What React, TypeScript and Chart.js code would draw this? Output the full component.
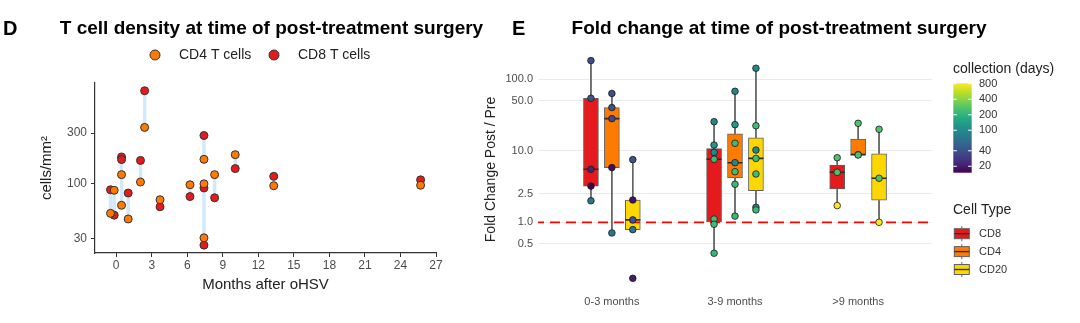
import React, { useEffect, useRef } from "react";
import { Chart, registerables } from "chart.js";

Chart.register(...registerables);
const FONT = "'Liberation Sans', Arial, Helvetica, sans-serif";
Chart.defaults.font.family = FONT;

// ---------------- Panel D : T cell density ----------------
const titleD = "T cell density at time of post-treatment surgery";
const monthsD = [-0.48, -0.17, 0.45, 0.45, 1.01, 2.05, 2.4, 3.7, 6.23, 7.41, 7.41, 7.41, 8.31, 10.05, 13.3, 25.7];
const cd4D = [52, 86, 121, 62, 46, 103, 339, 70, 97, 169, 30.5, 99, 121, 187, 95, 96];
const cd8D = [87, 50, 178, 168, 81, 165, 754, 60, 75, 284, 90.5, 26, 73, 138, 116.5, 108];
const xTicksD = [0, 3, 6, 9, 12, 15, 18, 21, 24, 27];
const yTicksD = [30, 100, 300];
const legendD = ["CD4 T cells", "CD8 T cells"];

// ---------------- Panel E : fold change ----------------
const titleE = "Fold change at time of post-treatment surgery";
const groupsE = ["0-3 months", "3-9 months", ">9 months"];
const cellTypesE = ["CD8", "CD4", "CD20"];
const cd8Fold = [[181, 54, 5.5, 3.2, 2.0], [25.4, 12.0, 9.5, 7.6, 1.11, 0.94, 0.37], [7.98, 4.99, 1.71]];
const cd8Days = [[40, 42, 22, 15, 70], [90, 120, 95, 230, 240, 230, 210], [270, 260, 815]];
const cd4Fold = [[63, 40, 28, 5.8, 0.71], [67.5, 23.1, 12.7, 6.8, 5.09, 3.4, 1.22], [24.1, 8.8, 8.7]];
const cd4Days = [[40, 42, 35, 17, 70], [95, 130, 230, 90, 230, 220, 220], [270, 260, 270]];
const cd20Fold = [[7.5, 2.05, 1.08, 0.79, 0.165], [141.6, 22.3, 10.2, 7.8, 4.73, 1.62, 1.49], [19.9, 4.12, 1.0]];
const cd20Days = [[42, 18, 40, 65, 20], [95, 230, 90, 230, 230, 100, 220], [270, 260, 815]];
const yTicksE = [0.5, 1, 2.5, 10, 50, 100];
const colorbarTicksE = [20, 40, 100, 200, 400, 800];
const refLineE = 1;

// ---------------- styles ----------------
const colCD4 = "#FF7A00";
const colCD8 = "#E41A1C";
const colCD20 = "#FFD700";
const cellColors = [colCD8, colCD4, colCD20];
const dodge = [-0.17, 0, 0.17];
const viridisStops = ["#440154", "#482576", "#414487", "#35608D", "#2A788E", "#21908C", "#22A884", "#43BF71", "#7AD151", "#BBDF27", "#FDE725"];

function hexToRgb(h: string) {
  const n = parseInt(h.slice(1), 16);
  return [(n >> 16) & 255, (n >> 8) & 255, n & 255];
}
function viridis(t: number) {
  t = Math.max(0, Math.min(1, t));
  const s = t * (viridisStops.length - 1);
  const i = Math.min(viridisStops.length - 2, Math.floor(s));
  const f = s - i;
  const a = hexToRgb(viridisStops[i]);
  const b = hexToRgb(viridisStops[i + 1]);
  const c = a.map((v, k) => Math.round(v + (b[k] - v) * f));
  return `rgb(${c[0]},${c[1]},${c[2]})`;
}

function q7(sorted: number[], p: number) {
  const h = (sorted.length - 1) * p;
  const lo = Math.floor(h);
  const hi = Math.ceil(h);
  return sorted[lo] + (h - lo) * (sorted[hi] - sorted[lo]);
}
function boxStats(vals: number[]) {
  const l = vals.map((v) => Math.log10(v)).sort((a, b) => a - b);
  const q1 = q7(l, 0.25);
  const med = q7(l, 0.5);
  const q3 = q7(l, 0.75);
  const iqr = q3 - q1;
  const lo = Math.min(...l.filter((v) => v >= q1 - 1.5 * iqr));
  const hi = Math.max(...l.filter((v) => v <= q3 + 1.5 * iqr));
  return { q1: 10 ** q1, med: 10 ** med, q3: 10 ** q3, lo: 10 ** lo, hi: 10 ** hi };
}

function makeConfigD(): any {
  const pairData: any[] = [];
  monthsD.forEach((m, i) => {
    pairData.push({ x: m, y: cd8D[i] }, { x: m, y: cd4D[i] }, { x: m, y: null });
  });
  const decor = {
    id: "decorD",
    afterDraw(chart: any) {
      const ctx = chart.ctx;
      ctx.save();
      ctx.textBaseline = "middle";
      ctx.fillStyle = "#000";
      ctx.textAlign = "left";
      ctx.font = `bold 20px ${FONT}`;
      ctx.fillText("D", 3, 29);
      ctx.font = `bold 19px ${FONT}`;
      ctx.textAlign = "center";
      ctx.fillText(titleD, 271.5, 29);
      const lx = [155, 274];
      const lc = [colCD4, colCD8];
      legendD.forEach((lab, i) => {
        ctx.beginPath();
        ctx.arc(lx[i], 55, 5, 0, Math.PI * 2);
        ctx.fillStyle = lc[i];
        ctx.fill();
        ctx.lineWidth = 1;
        ctx.strokeStyle = "#333";
        ctx.stroke();
        ctx.fillStyle = "#222";
        ctx.textAlign = "left";
        ctx.font = `14px ${FONT}`;
        ctx.fillText(lab, lx[i] + 24, 55);
      });
      ctx.restore();
    },
  };
  return {
    type: "scatter",
    data: {
      datasets: [
        {
          type: "line",
          data: pairData,
          borderColor: "#D2E8FB",
          borderWidth: 3.5,
          pointRadius: 0,
          spanGaps: false,
          showLine: true,
          order: 3,
        },
        {
          label: "CD8 T cells",
          data: monthsD.map((m, i) => ({ x: m, y: cd8D[i] })),
          backgroundColor: colCD8,
          borderColor: "#333",
          borderWidth: 1,
          pointRadius: 4,
          order: 2,
        },
        {
          label: "CD4 T cells",
          data: monthsD.map((m, i) => ({ x: m, y: cd4D[i] })),
          backgroundColor: colCD4,
          borderColor: "#333",
          borderWidth: 1,
          pointRadius: 4,
          order: 1,
        },
      ],
    },
    options: {
      responsive: false,
      animation: false,
      events: [],
      layout: { padding: { left: 0, top: 83, right: 644, bottom: 0 } },
      plugins: { legend: { display: false }, tooltip: { enabled: false }, title: { display: false } },
      scales: {
        x: {
          type: "linear",
          min: -1.79,
          max: 27.0,
          afterBuildTicks: (s: any) => {
            s.ticks = xTicksD.map((v) => ({ value: v }));
          },
          afterFit: (s: any) => {
            s.height = 70;
          },
          ticks: { color: "#4d4d4d", font: { size: 12 }, padding: 1, maxRotation: 0, autoSkip: false, callback: (v: any) => String(v) },
          grid: { drawOnChartArea: false, drawTicks: true, tickLength: 4, color: "#333", lineWidth: 1 },
          border: { display: true, color: "#333", width: 1.2 },
          title: { display: true, text: "Months after oHSV", color: "#222", font: { size: 15 }, padding: { top: 0, bottom: 29 } },
        },
        y: {
          type: "logarithmic",
          min: 21.9,
          max: 893,
          afterBuildTicks: (s: any) => {
            s.ticks = yTicksD.map((v) => ({ value: v }));
          },
          afterFit: (s: any) => {
            s.width = 95;
          },
          ticks: { color: "#4d4d4d", font: { size: 12 }, padding: 4, callback: (v: any) => String(v) },
          grid: { drawOnChartArea: false, drawTicks: true, tickLength: 4, color: "#333", lineWidth: 1 },
          border: { display: true, color: "#333", width: 1.2 },
          title: { display: true, text: "cells/mm²", color: "#222", font: { size: 15 }, padding: { top: 38, bottom: 0 } },
        },
      },
    },
    plugins: [decor],
  };
}

function makeConfigE(): any {
  const foldSets = [cd8Fold, cd4Fold, cd20Fold];
  const daySets = [cd8Days, cd4Days, cd20Days];
  const allDays = daySets.flat(2);
  const dMin = Math.min(...allDays);
  const dMax = Math.max(...allDays);
  const dayT = (d: number) => (Math.log(d) - Math.log(dMin)) / (Math.log(dMax) - Math.log(dMin));
  const stats = foldSets.map((fs) => fs.map(boxStats));
  const halfBox = 0.061;

  const bars = cellTypesE.map((ct, k) => ({
    type: "bar",
    label: ct,
    order: 3,
    grouped: false,
    barThickness: 15,
    backgroundColor: cellColors[k],
    borderColor: "#606060",
    borderWidth: 1,
    borderSkipped: false,
    data: stats[k].map((s, g) => ({ x: g + 1 + dodge[k], y: [s.q1, s.q3] })),
  }));
  const whiskers: any[] = [];
  const medians: any[] = [];
  stats.forEach((row, k) =>
    row.forEach((s, g) => {
      const x = g + 1 + dodge[k];
      whiskers.push({ x, y: s.hi }, { x, y: s.q3 }, { x, y: null }, { x, y: s.q1 }, { x, y: s.lo }, { x, y: null });
      medians.push({ x: x - halfBox, y: s.med }, { x: x + halfBox, y: s.med }, { x, y: null });
    })
  );
  const points = cellTypesE.map((ct, k) => ({
    type: "scatter",
    label: ct + " points",
    order: 0,
    showLine: false,
    data: foldSets[k].flatMap((arr, g) => arr.map((v) => ({ x: g + 1 + dodge[k], y: v }))),
    backgroundColor: daySets[k].flat().map((d) => viridis(dayT(d))),
    borderColor: "#1a1a1a",
    borderWidth: 0.8,
    pointRadius: 3.3,
  }));

  const decor = {
    id: "decorE",
    afterDraw(chart: any) {
      const ctx = chart.ctx;
      ctx.save();
      ctx.textBaseline = "middle";
      ctx.fillStyle = "#000";
      ctx.textAlign = "left";
      ctx.font = `bold 20px ${FONT}`;
      ctx.fillText("E", 512, 29);
      ctx.font = `bold 19px ${FONT}`;
      ctx.textAlign = "center";
      ctx.fillText(titleE, 779, 29);
      // colour bar legend
      ctx.textAlign = "left";
      ctx.fillStyle = "#222";
      ctx.font = `14px ${FONT}`;
      ctx.fillText("collection (days)", 953, 69);
      const bx = 953.3, by = 83.3, bw = 18.4, bh = 89.4;
      const grad = ctx.createLinearGradient(0, by + bh, 0, by);
      viridisStops.forEach((c, i) => grad.addColorStop(i / (viridisStops.length - 1), c));
      ctx.fillStyle = grad;
      ctx.fillRect(bx, by, bw, bh);
      ctx.font = `11px ${FONT}`;
      colorbarTicksE.forEach((v) => {
        const y = by + (1 - dayT(v)) * bh;
        ctx.strokeStyle = "#fff";
        ctx.lineWidth = 1;
        ctx.beginPath();
        ctx.moveTo(bx, y);
        ctx.lineTo(bx + 3.6, y);
        ctx.moveTo(bx + bw - 3.6, y);
        ctx.lineTo(bx + bw, y);
        ctx.stroke();
        ctx.fillStyle = "#333";
        ctx.fillText(String(v), 979, y);
      });
      // cell type legend
      ctx.fillStyle = "#222";
      ctx.font = `14px ${FONT}`;
      ctx.fillText("Cell Type", 953, 210);
      cellTypesE.forEach((ct, i) => {
        const yc = 233.7 + i * 17.9;
        const x0 = 954.3, w = 15;
        ctx.strokeStyle = "#606060";
        ctx.lineWidth = 1;
        ctx.beginPath();
        ctx.moveTo(x0 + w / 2, yc - 7.5);
        ctx.lineTo(x0 + w / 2, yc - 5);
        ctx.moveTo(x0 + w / 2, yc + 5);
        ctx.lineTo(x0 + w / 2, yc + 7.5);
        ctx.stroke();
        ctx.fillStyle = cellColors[i];
        ctx.fillRect(x0, yc - 5, w, 10);
        ctx.strokeRect(x0, yc - 5, w, 10);
        ctx.strokeStyle = "#333";
        ctx.lineWidth = 1.4;
        ctx.beginPath();
        ctx.moveTo(x0, yc);
        ctx.lineTo(x0 + w, yc);
        ctx.stroke();
        ctx.fillStyle = "#333";
        ctx.font = `11px ${FONT}`;
        ctx.fillText(ct, 979, yc);
      });
      ctx.restore();
    },
  };

  return {
    type: "line",
    data: {
      datasets: [
        {
          type: "line",
          label: "whiskers",
          order: 4,
          data: whiskers,
          borderColor: "#606060",
          borderWidth: 1,
          pointRadius: 0,
          spanGaps: false,
        },
        ...bars,
        {
          type: "line",
          label: "medians",
          order: 2,
          data: medians,
          borderColor: "#2b2b2b",
          borderWidth: 1.6,
          pointRadius: 0,
          spanGaps: false,
        },
        {
          type: "line",
          label: "reference",
          order: 1,
          data: [
            { x: 0.4, y: refLineE },
            { x: 3.6, y: refLineE },
          ],
          borderColor: "#FF0000",
          borderWidth: 1.7,
          borderDash: [10, 6],
          borderDashOffset: 4,
          pointRadius: 0,
        },
        ...points,
      ],
    },
    options: {
      responsive: false,
      animation: false,
      events: [],
      layout: { padding: { left: 0, top: 49.7, right: 148, bottom: 0 } },
      plugins: { legend: { display: false }, tooltip: { enabled: false }, title: { display: false } },
      scales: {
        x: {
          type: "linear",
          min: 0.4,
          max: 3.6,
          offset: false,
          afterBuildTicks: (s: any) => {
            s.ticks = groupsE.map((_, i) => ({ value: i + 1 }));
          },
          afterFit: (s: any) => {
            s.height = 323 - 289.2;
          },
          ticks: {
            color: "#4d4d4d",
            font: { size: 11 },
            padding: -2,
            maxRotation: 0,
            autoSkip: false,
            callback: (v: any) => groupsE[Math.round(v) - 1],
          },
          grid: { display: false },
          border: { display: false },
        },
        y: {
          type: "logarithmic",
          min: 0.1164,
          max: 257,
          afterBuildTicks: (s: any) => {
            s.ticks = yTicksE.map((v) => ({ value: v }));
          },
          afterFit: (s: any) => {
            s.width = 538;
          },
          ticks: { color: "#4d4d4d", font: { size: 11 }, padding: 5, callback: (v: any) => Number(v).toFixed(1) },
          grid: { color: "#EBEBEB", lineWidth: 1.1, drawTicks: false },
          border: { display: false },
          title: { display: true, text: "Fold Change Post / Pre", color: "#222", font: { size: 14 }, padding: { top: 482.6, bottom: 0 } },
        },
      },
    },
    plugins: [decor],
  };
}

export default function App() {
  const leftRef = useRef<HTMLCanvasElement>(null);
  const rightRef = useRef<HTMLCanvasElement>(null);
  useEffect(() => {
    const c1 = new Chart(leftRef.current as HTMLCanvasElement, makeConfigD());
    const c2 = new Chart(rightRef.current as HTMLCanvasElement, makeConfigE());
    return () => {
      c1.destroy();
      c2.destroy();
    };
  }, []);
  return (
    <div style={{ position: "fixed", left: 0, top: 0, width: 1080, height: 323, background: "#fff" }}>
      <canvas ref={leftRef} width={1080} height={323} style={{ position: "absolute", left: 0, top: 0 }} />
      <canvas ref={rightRef} width={1080} height={323} style={{ position: "absolute", left: 0, top: 0 }} />
    </div>
  );
}
